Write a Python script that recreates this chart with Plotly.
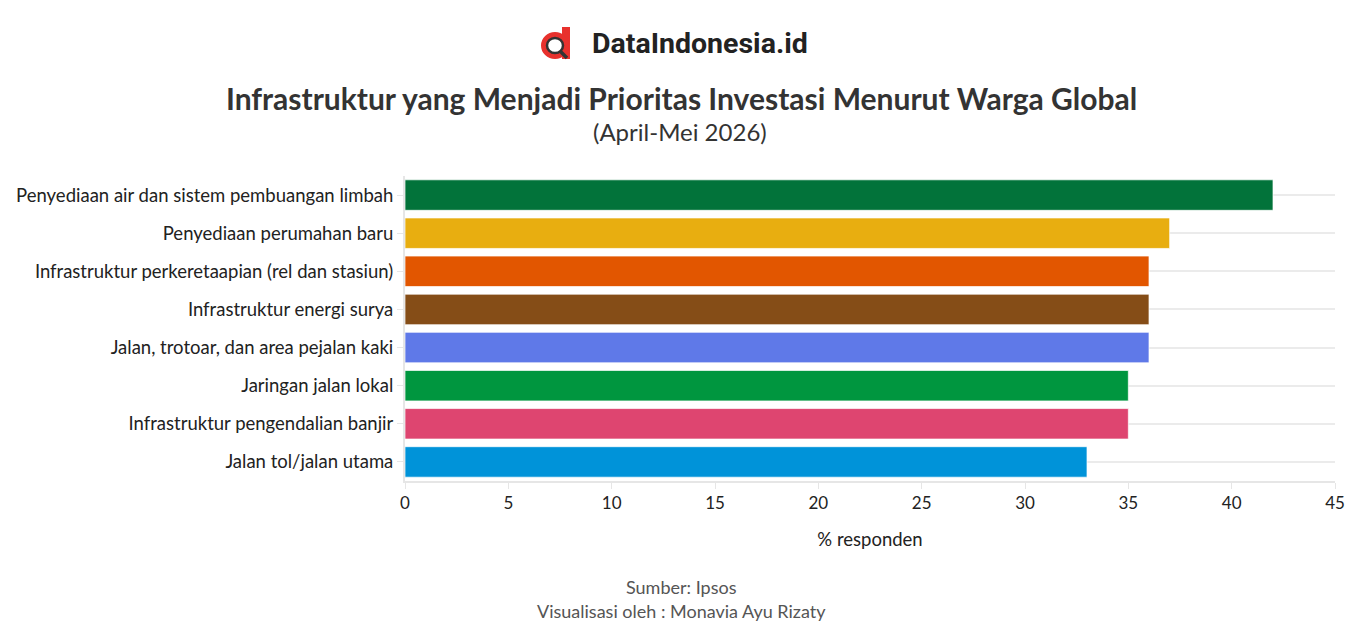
import plotly.graph_objects as go

categories = [
    "Penyediaan air dan sistem pembuangan limbah",
    "Penyediaan perumahan baru",
    "Infrastruktur perkeretaapian (rel dan stasiun)",
    "Infrastruktur energi surya",
    "Jalan, trotoar, dan area pejalan kaki",
    "Jaringan jalan lokal",
    "Infrastruktur pengendalian banjir",
    "Jalan tol/jalan utama",
]
values = [42, 37, 36, 36, 36, 35, 35, 33]
colors = ["#02733a", "#e8ae10", "#e25600", "#854d17", "#5f79e8", "#00963f", "#de4570", "#0093d9"]
x_ticks = [0, 5, 10, 15, 20, 25, 30, 35, 40, 45]

FONT = "Source Sans Pro, Lato, Noto Sans, sans-serif"

fig = go.Figure(go.Bar(
    y=categories, x=values, orientation="h",
    marker=dict(color=colors, line=dict(color="rgba(255,255,255,0.7)", width=1)),
    hoverinfo="x+y",
))

W, H = 1363, 636
L, R, T, B = 405, 28, 176, 155

fig.update_layout(
    width=W, height=H,
    margin=dict(l=L, r=R, t=T, b=B),
    paper_bgcolor="white", plot_bgcolor="white",
    font=dict(family=FONT, color="#222", size=17),
    bargap=0.2,
    showlegend=False,
    xaxis=dict(
        range=[0, 45], tickvals=x_ticks, showgrid=False, zeroline=False,
        showline=True, linecolor="#e6e6e6", linewidth=2,
        ticks="outside", ticklen=6, tickcolor="#e6e6e6",
        tickfont=dict(size=17, color="#222"),
        title=dict(text="% responden", font=dict(size=18.5, color="#222"), standoff=21),
    ),
    yaxis=dict(
        categoryorder="array", categoryarray=categories[::-1],
        showgrid=True, gridcolor="#ebebeb", gridwidth=2,
        showline=True, linecolor="#e6e6e6", linewidth=2,
        ticks="outside", ticklen=6, tickcolor="#e6e6e6",
        tickfont=dict(size=18.5, color="#222"),
    ),
)

def py2p(py):
    return 1 - (py - T) / (H - T - B)

def px2p(px):
    return (px - L) / (W - L - R)

annotations = [
    dict(text="<b>Infrastruktur yang Menjadi Prioritas Investasi Menurut Warga Global</b>",
         x=px2p(681), y=py2p(98), font=dict(size=30, color="#333", family=FONT)),
    dict(text="(April-Mei 2026)",
         x=px2p(680), y=py2p(131), font=dict(size=24, color="#333", family=FONT)),
    dict(text="<b>DataIndonesia.id</b>",
         x=px2p(700), y=py2p(43), font=dict(size=28.5, color="#222", family="Roboto, sans-serif")),
    dict(text="Sumber: Ipsos",
         x=px2p(681), y=py2p(587), font=dict(size=18, color="#555", family=FONT)),
    dict(text="Visualisasi oleh : Monavia Ayu Rizaty",
         x=px2p(681), y=py2p(611), font=dict(size=18, color="#555", family=FONT)),
]
for a in annotations:
    a.update(xref="paper", yref="paper", showarrow=False, xanchor="center", yanchor="middle")
fig.update_layout(annotations=annotations)

def shape_px(kind, x0, y0, x1, y1, **kw):
    fig.add_shape(type=kind, xref="paper", yref="paper",
                  x0=px2p(x0), x1=px2p(x1), y0=py2p(y0), y1=py2p(y1), **kw)

# logo icon: red "d" with magnifier
shape_px("rect", 562, 27, 570, 59, fillcolor="#e8312d", line=dict(width=0))
shape_px("circle", 541, 32, 569, 59, fillcolor="#e8312d", line=dict(width=0))
shape_px("circle", 547, 38, 563, 53, fillcolor="white", line=dict(color="#333", width=2.5))
shape_px("line", 560, 51, 567, 58, line=dict(color="#333", width=3.5))

fig.write_html("out.html")
